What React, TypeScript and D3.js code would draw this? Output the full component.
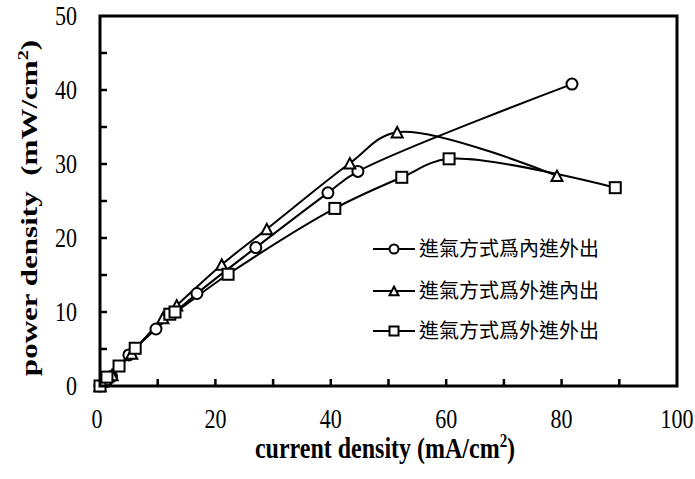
import React from "react";
import * as d3 from "d3";

type Pt = [number, number];

const xTicks = [0, 20, 40, 60, 80, 100];
const yTicks = [0, 10, 20, 30, 40, 50];

const seriesNames = ["進氣方式爲內進外出", "進氣方式爲外進內出", "進氣方式爲外進外出"];

const circleData: Pt[] = [
  [0, 0], [1, 0.6], [2, 1.3], [5, 4.2], [9.7, 7.7], [16.8, 12.5], [27, 18.7],
  [39.5, 26.1], [44.7, 29.0], [81.8, 40.8],
];
const triangleData: Pt[] = [
  [0, 0], [1, 0.8], [2.1, 1.5], [5.5, 4.4], [10.9, 9.2], [13.3, 10.9], [21.1, 16.4],
  [28.9, 21.2], [43.3, 30.1], [51.5, 34.3], [79.2, 28.4],
];
const squareData: Pt[] = [
  [0, 0], [1.2, 1.2], [3.3, 2.7], [6.1, 5.1], [12.1, 9.7], [13.0, 10.0], [22.2, 15.1],
  [40.7, 24.0], [52.3, 28.2], [60.5, 30.7], [89.3, 26.8],
];

const W = 695, H = 479;
const L = 100, R = 677, T = 16, B = 386;
const STRETCH = 1.25;
const SERIF = "'Liberation Serif', 'Times New Roman', serif";

function Marker({ kind, x, y, s }: { kind: number; x: number; y: number; s: number }) {
  if (kind === 0) return <circle cx={x} cy={y} r={s * 0.5} fill="white" stroke="black" strokeWidth={2} />;
  if (kind === 1) {
    const h = s * 0.95;
    return (
      <polygon
        points={`${x - s / 2},${y + h / 2} ${x + s / 2},${y + h / 2} ${x},${y - h / 2}`}
        fill="white" stroke="black" strokeWidth={2} strokeLinejoin="miter"
      />
    );
  }
  return <rect x={x - s / 2} y={y - s / 2} width={s} height={s} fill="white" stroke="black" strokeWidth={2} />;
}

export default function App() {
  const x = d3.scaleLinear().domain([0, 100]).range([L, R]);
  const y = d3.scaleLinear().domain([0, 50]).range([B, T]);
  const line = d3.line<Pt>().x((d) => x(d[0])).y((d) => y(d[1])).curve(d3.curveCatmullRom.alpha(0.5));
  const data = [circleData, triangleData, squareData];
  const minorX = d3.range(10, 100, 10);
  const minorY = d3.range(5, 50, 5);
  const legendY = [249, 291, 331];

  return (
    <svg width={W} height={H} style={{ display: "block", position: "absolute", left: 0, top: 0 }}>
      <rect width={W} height={H} fill="white" />
      {minorX.map((t) => (
        <line key={"xt" + t} x1={x(t)} x2={x(t)} y1={B} y2={B - 7} stroke="black" strokeWidth={2.5} />
      ))}
      {minorY.map((t) => (
        <line key={"yt" + t} x1={L} x2={L + 7} y1={y(t)} y2={y(t)} stroke="black" strokeWidth={2.5} />
      ))}
      {data.map((d, i) => (
        <path key={"l" + i} d={line(d) || ""} fill="none" stroke="black" strokeWidth={2} />
      ))}
      {data.map((d, i) =>
        d.map((p, j) => <Marker key={`m${i}-${j}`} kind={i} x={x(p[0])} y={y(p[1])} s={11} />)
      )}
      <rect x={L} y={T} width={R - L} height={B - T} fill="none" stroke="black" strokeWidth={3} />
      {xTicks.map((t) => (
        <text key={"xl" + t} transform={`translate(${x(t) - (t === 0 ? 3 : 0)},428) scale(1,${STRETCH})`}
          textAnchor="middle" fontFamily={SERIF} fontSize={22}>{t}</text>
      ))}
      {yTicks.map((t) => (
        <text key={"yl" + t} transform={`translate(77,${y(t) + 9}) scale(1,${STRETCH})`}
          textAnchor="end" fontFamily={SERIF} fontSize={22}>{t}</text>
      ))}
      <text transform={`translate(385,458) scale(1,${STRETCH})`} textAnchor="middle" fontFamily={SERIF}
        fontSize={24} fontWeight="bold">
        current density (mA/cm<tspan dy={-9} fontSize={15}>2</tspan><tspan dy={9}>)</tspan>
      </text>
      <text transform={`translate(37,208) scale(1,1.35) rotate(-90)`} textAnchor="middle"
        fontFamily={SERIF} fontSize={23} fontWeight="bold" style={{ whiteSpace: "pre" }}>
        {"power density  (mW/cm"}<tspan dy={-9} fontSize={15}>2</tspan><tspan dy={9}>)</tspan>
      </text>
      {seriesNames.map((n, i) => (
        <g key={"lg" + i}>
          <line x1={373} x2={415} y1={legendY[i]} y2={legendY[i]} stroke="black" strokeWidth={2} />
          <Marker kind={i} x={394} y={legendY[i]} s={9} />
          <text x={419} y={legendY[i] + 7} fontFamily="'Noto Sans CJK TC', 'Noto Sans CJK SC', sans-serif"
            fontSize={20}>{n}</text>
        </g>
      ))}
    </svg>
  );
}
